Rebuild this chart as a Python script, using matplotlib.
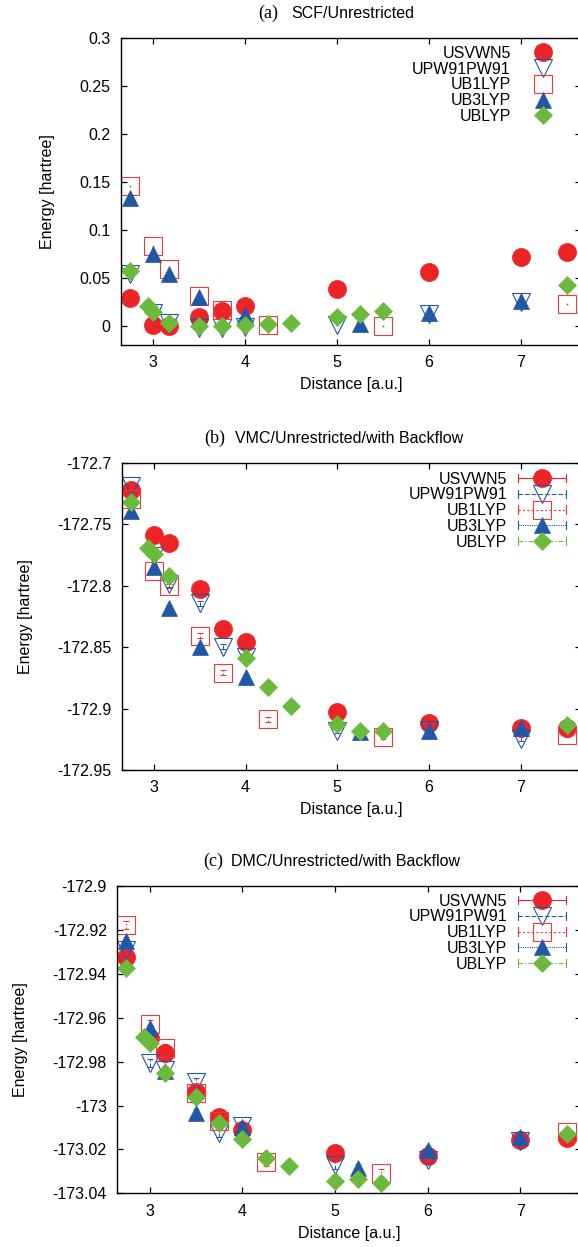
import matplotlib
matplotlib.use('Agg')
import matplotlib.pyplot as plt
from matplotlib.lines import Line2D
from matplotlib.legend_handler import HandlerLine2D
import numpy as np

plt.rcParams['font.family'] = ['Liberation Sans', 'DejaVu Sans']
plt.rcParams['axes.unicode_minus'] = False

labels = ['USVWN5', 'UPW91PW91', 'UB1LYP', 'UB3LYP', 'UBLYP']

# (a) SCF
scf_usvwn5_x = [2.75, 3.0, 3.17, 3.5, 3.75, 4.0, 5.0, 6.0, 7.0, 7.5]
scf_usvwn5_e = [0.0285, 0.0007, 0.0, 0.0094, 0.0156, 0.0205, 0.0378, 0.0559, 0.0715, 0.0767]
scf_upw91_x = [2.75, 3.0, 3.17, 3.5, 3.75, 4.0, 5.0, 6.0, 7.0]
scf_upw91_e = [0.054, 0.013, 0.003, -0.002, -0.002, -0.0015, 0.001, 0.012, 0.025]
scf_ub1lyp_x = [2.75, 3.0, 3.17, 3.5, 3.75, 4.25, 5.5, 7.5]
scf_ub1lyp_e = [0.1458, 0.083, 0.0587, 0.031, 0.0163, 0.0007, 0.0, 0.0226]
scf_ub3lyp_x = [2.75, 3.0, 3.17, 3.5, 4.0, 5.25, 6.0, 7.0]
scf_ub3lyp_e = [0.1326, 0.0747, 0.0538, 0.030, 0.0115, 0.002, 0.0132, 0.026]
scf_ublyp_x = [2.75, 2.94, 3.0, 3.17, 3.5, 3.75, 4.0, 4.25, 4.5, 5.0, 5.25, 5.5, 7.5]
scf_ublyp_e = [0.0573, 0.0208, 0.0140, 0.0024, 0.0, 0.0, 0.0007, 0.0014, 0.0031, 0.0087, 0.0118, 0.0156, 0.042]

# (b) VMC
vmc_usvwn5_x = [2.75, 3.0, 3.17, 3.5, 3.75, 4.0, 5.0, 6.0, 7.0, 7.5]
vmc_usvwn5_e = [-172.7222, -172.7588, -172.7656, -172.8028, -172.8356, -172.8456, -172.9025, -172.912, -172.9156, -172.916]
vmc_upw91_x = [2.75, 3.0, 3.17, 3.5, 3.75, 4.0, 5.0, 6.0, 7.0]
vmc_upw91_e = [-172.719, -172.776, -172.799, -172.8144, -172.8497, -172.858, -172.918, -172.9175, -172.9245]
vmc_ub1lyp_x = [2.75, 3.0, 3.17, 3.5, 3.75, 4.25, 5.5, 7.5]
vmc_ub1lyp_e = [-172.7298, -172.7879, -172.8003, -172.8407, -172.8708, -172.9088, -172.9229, -172.9215]
vmc_ub3lyp_x = [2.75, 3.0, 3.17, 3.5, 4.0, 5.25, 6.0, 7.0]
vmc_ub3lyp_e = [-172.7396, -172.7846, -172.818, -172.8497, -172.874, -172.919, -172.9183, -172.9161]
vmc_ublyp_x = [2.75, 2.94, 3.0, 3.17, 4.0, 4.25, 4.5, 5.0, 5.25, 5.5, 7.5]
vmc_ublyp_e = [-172.7317, -172.7697, -172.7743, -172.7919, -172.8592, -172.8822, -172.8977, -172.9126, -172.918, -172.918, -172.9134]
vmc_err = 0.002

# (c) DMC
dmc_usvwn5_x = [2.75, 3.0, 3.17, 3.5, 3.75, 4.0, 5.0, 6.0, 7.0, 7.5]
dmc_usvwn5_e = [-172.9325, -172.9694, -172.9759, -172.9937, -173.0054, -173.0111, -173.0215, -173.023, -173.0157, -173.015]
dmc_upw91_x = [2.75, 3.0, 3.17, 3.5, 3.75, 4.0, 5.0, 6.0, 7.0]
dmc_upw91_e = [-172.9292, -172.9808, -172.9838, -172.9893, -173.0127, -173.0093, -173.0271, -173.0249, -173.0162]
dmc_ub1lyp_x = [2.75, 3.0, 3.17, 3.5, 3.75, 4.25, 5.5, 7.5]
dmc_ub1lyp_e = [-172.9178, -172.9629, -172.974, -172.9945, -173.0071, -173.0256, -173.0309, -173.0119]
dmc_ub3lyp_x = [2.75, 3.0, 3.17, 3.5, 4.0, 5.25, 6.0, 7.0]
dmc_ub3lyp_e = [-172.9251, -172.9649, -172.9841, -173.0033, -173.0096, -173.0286, -173.0203, -173.0143]
dmc_ublyp_x = [2.75, 2.94, 3.0, 3.17, 3.5, 3.75, 4.0, 4.25, 4.5, 5.0, 5.25, 5.5, 7.5]
dmc_ublyp_e = [-172.9372, -172.9686, -172.9714, -172.985, -172.9963, -173.0081, -173.0154, -173.0241, -173.0276, -173.0342, -173.0335, -173.0352, -173.013]
dmc_err = 0.0018

xticks = [3, 4, 5, 6, 7]
scf_yticks = [0, 0.05, 0.1, 0.15, 0.2, 0.25, 0.3]
vmc_yticks = [-172.95, -172.9, -172.85, -172.8, -172.75, -172.7]
dmc_yticks = [-173.04, -173.02, -173.0, -172.98, -172.96, -172.94, -172.92, -172.9]

RED = '#ec2327'
SQRED = '#ee3a3a'
BLUE = '#2256a6'
GREEN = '#6bba3e'

# marker styles: (marker, size, face, edge, edge width, line style, line colour)
styles = [
    dict(marker='o', ms=13, mfc=RED, mec=RED, mew=0.5, ls='-', c=RED),
    dict(marker='v', ms=12.5, mfc='none', mec=BLUE, mew=0.8, ls=(0, (4, 2)), c=BLUE),
    dict(marker='s', ms=12.5, mfc='none', mec=SQRED, mew=0.8, ls=(0, (2, 2)), c=SQRED),
    dict(marker='^', ms=12, mfc=BLUE, mec=BLUE, mew=0.5, ls=(0, (1, 1)), c=BLUE),
    dict(marker='D', ms=9.3, mfc=GREEN, mec=GREEN, mew=0.5, ls=(0, (4, 2, 1, 2)), c=GREEN),
]

W, H = 578, 1247
fig = plt.figure(figsize=(W / 100, H / 100), dpi=100)
FS = 11.5


class CapHandler(HandlerLine2D):
    def create_artists(self, legend, orig_handle, xdescent, ydescent, width, height, fontsize, trans):
        arts = super().create_artists(legend, orig_handle, xdescent, ydescent,
                                      width, height, fontsize, trans)
        y0 = (height - ydescent) / 2
        for xc in (-xdescent, -xdescent + width):
            cap = Line2D([xc, xc], [y0 - 3, y0 + 3], color=orig_handle.get_color(), lw=0.8)
            cap.set_transform(trans)
            arts.append(cap)
        return arts


def make_axes(l, t, r, b):
    ax = fig.add_axes([l / W, 1 - b / H, (r - l) / W, (b - t) / H])
    ax.set_xlim(2.65, 7.65)
    ax.set_xticks(xticks)
    ax.tick_params(direction='in', top=True, right=True, length=4.5, width=0.9,
                   labelsize=FS, pad=7.5)
    for s in ax.spines.values():
        s.set_linewidth(1.0)
    ax.set_xlabel('Distance [a.u.]', fontsize=FS, labelpad=5)
    ax.set_ylabel('Energy [hartree]', fontsize=FS, labelpad=17.5)
    ax.yaxis.set_major_formatter(matplotlib.ticker.FormatStrFormatter('%g'))
    return ax


def title(x_lab, x_txt, y, tag, text):
    fig.text(x_lab / W, 1 - y / H, tag, ha='right', va='center', fontsize=13,
             family='Liberation Serif')
    fig.text(x_txt / W, 1 - y / H, text, ha='left', va='center', fontsize=FS)


# ---- (a)
ax = make_axes(121, 37.7, 580.5, 345)
ax.set_ylim(-0.02, 0.3)
ax.set_yticks(scf_yticks)
series = [(scf_usvwn5_x, scf_usvwn5_e), (scf_upw91_x, scf_upw91_e), (scf_ub1lyp_x, scf_ub1lyp_e),
          (scf_ub3lyp_x, scf_ub3lyp_e), (scf_ublyp_x, scf_ublyp_e)]
handles = []
for (x, e), st, lab in zip(series, styles, labels):
    h, = ax.plot(x, e, ls='none', marker=st['marker'], ms=st['ms'], mfc=st['mfc'],
                 mec=st['mec'], mew=st['mew'], label=lab)
    if st['mfc'] == 'none':
        ax.plot(x, e, ls='none', marker='o', ms=1.3, color=st['c'], mew=0)
    handles.append(h)
leg = ax.legend(handles=handles, loc='upper right', bbox_to_anchor=((558.6 - 121) / 459.5, 1 - 8.1 / 307.3),
                borderaxespad=0, borderpad=0, frameon=False, markerfirst=False, numpoints=1,
                handlelength=2.0, handletextpad=1.0, labelspacing=0.05, fontsize=FS)
title(278, 291, 13.3, '(a)', 'SCF/Unrestricted')


def qmc_panel(l, t, r, b, ylim, yticks, series, err, anchor_top):
    ax = make_axes(l, t, r, b)
    ax.set_ylim(*ylim)
    ax.set_yticks(yticks)
    handles = []
    for (x, e), st, lab in zip(series, styles, labels):
        cont = ax.errorbar(x, e, yerr=err, ls='none', marker=st['marker'], ms=st['ms'],
                           mfc=st['mfc'], mec=st['mec'], mew=st['mew'], ecolor=st['c'],
                           elinewidth=0.7, capsize=2, capthick=0.7)
        for lc in cont[2]:
            lc.set_linestyle(st['ls'])
        h = Line2D([], [], color=st['c'], ls=st['ls'], lw=0.8, marker=st['marker'], ms=st['ms'],
                   mfc=st['mfc'], mec=st['mec'], mew=st['mew'], label=lab)
        handles.append(h)
    ax.legend(handles=handles, loc='upper right',
              bbox_to_anchor=((565.7 - l) / (r - l), 1 - (anchor_top - t) / (b - t)),
              borderaxespad=0, borderpad=0, frameon=False, markerfirst=False, numpoints=1,
              handlelength=3.0, handletextpad=0.66, labelspacing=0.05, fontsize=FS,
              handler_map={Line2D: CapHandler()})
    return ax


# ---- (b)
qmc_panel(121.6, 462.7, 580.5, 770, (-172.95, -172.7), vmc_yticks,
          [(vmc_usvwn5_x, vmc_usvwn5_e), (vmc_upw91_x, vmc_upw91_e), (vmc_ub1lyp_x, vmc_ub1lyp_e),
           (vmc_ub3lyp_x, vmc_ub3lyp_e), (vmc_ublyp_x, vmc_ublyp_e)], vmc_err, 471.5)
title(225.6, 235, 438.3, '(b)', 'VMC/Unrestricted/with Backflow')

# ---- (c)
qmc_panel(117.2, 886, 580.7, 1193.3, (-173.04, -172.9), dmc_yticks,
          [(dmc_usvwn5_x, dmc_usvwn5_e), (dmc_upw91_x, dmc_upw91_e), (dmc_ub1lyp_x, dmc_ub1lyp_e),
           (dmc_ub3lyp_x, dmc_ub3lyp_e), (dmc_ublyp_x, dmc_ublyp_e)], dmc_err, 893.5)
title(223, 231.5, 861.7, '(c)', 'DMC/Unrestricted/with Backflow')

fig.savefig('out.png', dpi=100)
